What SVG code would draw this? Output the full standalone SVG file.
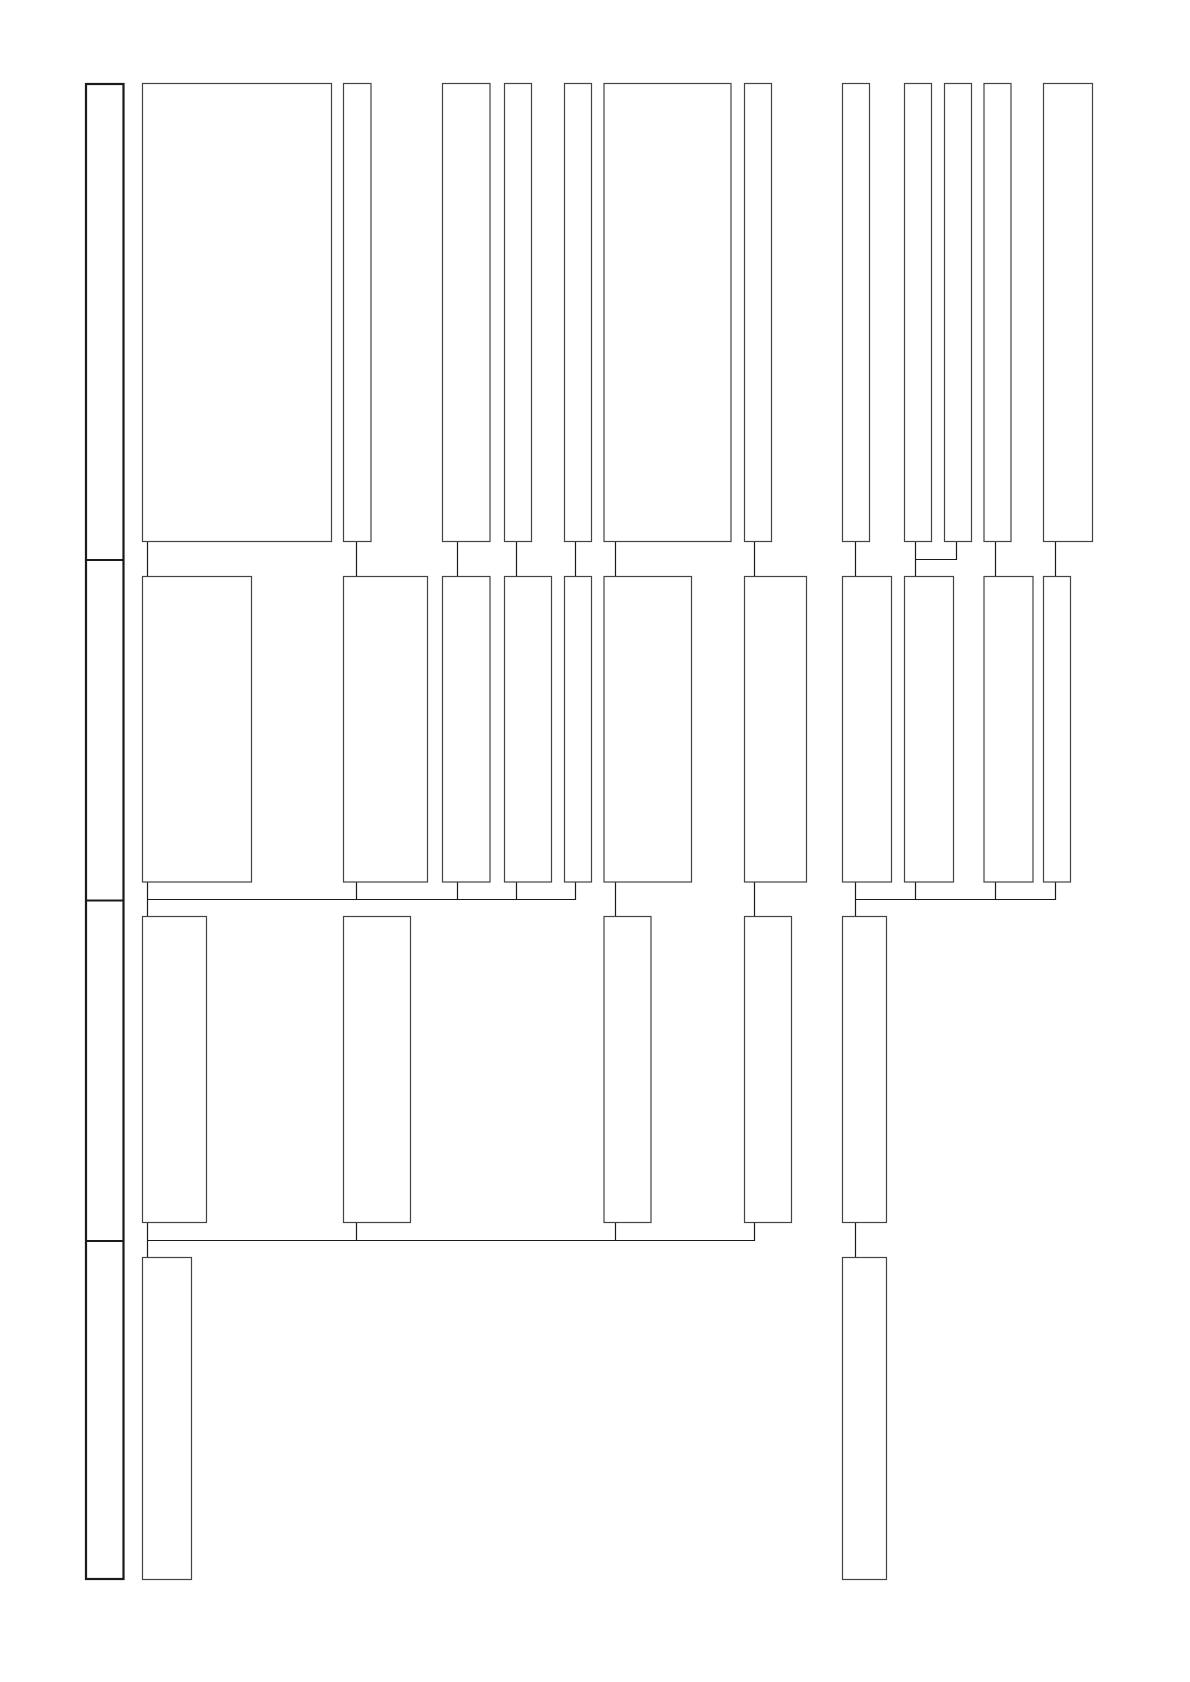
<svg xmlns="http://www.w3.org/2000/svg" width="1190" height="1682" viewBox="0 0 1190 1682">
<style>
.n{fill:#fff;stroke:#444;stroke-width:1.2}
.bar{fill:#fff;stroke:#1a1a1a;stroke-width:2.2}
.c{fill:none;stroke:#1a1a1a;stroke-width:1.2}
</style>
<rect width="1190" height="1682" fill="#fff"/>
<g id="band">
<rect class="bar" x="86" y="84" width="37.5" height="1495"/>
<line class="bar" x1="86" y1="560" x2="123.5" y2="560"/>
<line class="bar" x1="86" y1="900.5" x2="123.5" y2="900.5"/>
<line class="bar" x1="86" y1="1241" x2="123.5" y2="1241"/>
</g>
<g id="connectors">
<path class="c" d="M147.5 541.5V576.5 M356.5 541.5V576.5 M457.5 541.5V576.5 M516.5 541.5V576.5 M575.5 541.5V576.5 M615.5 541.5V576.5 M754.5 541.5V576.5 M855.5 541.5V576.5 M915.5 541.5V576.5 M956.5 541.5V559.5H915.5 M995.5 541.5V576.5 M1055.5 541.5V576.5"/>
<path class="c" d="M147.5 882V916.5 M356.5 882V899.5 M457.5 882V899.5 M516.5 882V899.5 M575.5 882V899.5H147.5 M615.5 882V916.5 M754.5 882V916.5 M855.5 882V916.5 M915.5 882V899.5 M995.5 882V899.5 M1055.5 882V899.5H855.5"/>
<path class="c" d="M147.5 1222.5V1257.5 M356.5 1222.5V1240.5 M615.5 1222.5V1240.5 M754.5 1222.5V1240.5H147.5 M855.5 1222.5V1257.5"/>
</g>
<g id="A1"><rect class="n" x="142.5" y="83.5" width="189" height="458"/></g>
<g id="A2"><rect class="n" x="343.5" y="83.5" width="27.5" height="458"/></g>
<g id="A3"><rect class="n" x="442.5" y="83.5" width="47.5" height="458"/></g>
<g id="A4"><rect class="n" x="504.5" y="83.5" width="27" height="458"/></g>
<g id="A5"><rect class="n" x="564.5" y="83.5" width="27" height="458"/></g>
<g id="A6"><rect class="n" x="604" y="83.5" width="127" height="458"/></g>
<g id="A7"><rect class="n" x="744.5" y="83.5" width="27" height="458"/></g>
<g id="A8"><rect class="n" x="842.5" y="83.5" width="27" height="458"/></g>
<g id="A9"><rect class="n" x="904.5" y="83.5" width="27" height="458"/></g>
<g id="A10"><rect class="n" x="944.5" y="83.5" width="27" height="458"/></g>
<g id="A11"><rect class="n" x="984" y="83.5" width="27" height="458"/></g>
<g id="A12"><rect class="n" x="1043.5" y="83.5" width="49" height="458"/></g>
<g id="B1"><rect class="n" x="142.5" y="576.5" width="109" height="305.5"/></g>
<g id="B2"><rect class="n" x="343.5" y="576.5" width="84" height="305.5"/></g>
<g id="B3"><rect class="n" x="442.5" y="576.5" width="47.5" height="305.5"/></g>
<g id="B4"><rect class="n" x="504.5" y="576.5" width="47" height="305.5"/></g>
<g id="B5"><rect class="n" x="564.5" y="576.5" width="27" height="305.5"/></g>
<g id="B6"><rect class="n" x="604" y="576.5" width="87.5" height="305.5"/></g>
<g id="B7"><rect class="n" x="744.5" y="576.5" width="62" height="305.5"/></g>
<g id="B8"><rect class="n" x="842.5" y="576.5" width="49" height="305.5"/></g>
<g id="B9"><rect class="n" x="904.5" y="576.5" width="49" height="305.5"/></g>
<g id="B10"><rect class="n" x="984" y="576.5" width="49" height="305.5"/></g>
<g id="B11"><rect class="n" x="1043.5" y="576.5" width="27" height="305.5"/></g>
<g id="C1"><rect class="n" x="142.5" y="916.5" width="64" height="306"/></g>
<g id="C2"><rect class="n" x="343.5" y="916.5" width="67" height="306"/></g>
<g id="C3"><rect class="n" x="604" y="916.5" width="47" height="306"/></g>
<g id="C4"><rect class="n" x="744.5" y="916.5" width="47" height="306"/></g>
<g id="C5"><rect class="n" x="842.5" y="916.5" width="44" height="306"/></g>
<g id="D1"><rect class="n" x="142.5" y="1257.5" width="49" height="322"/></g>
<g id="D2"><rect class="n" x="842.5" y="1257.5" width="44" height="322"/></g>
</svg>
